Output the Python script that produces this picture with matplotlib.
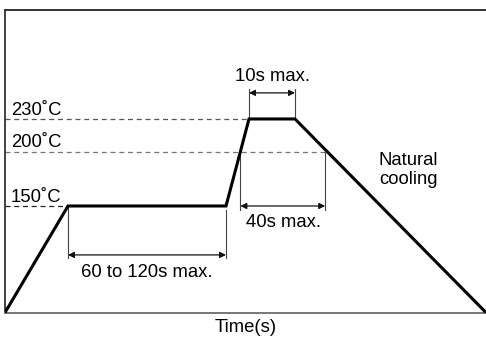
import matplotlib
matplotlib.use("Agg")
import matplotlib.pyplot as plt
import numpy as np

plt.rcParams['font.family'] = ['Liberation Sans', 'DejaVu Sans']

# reflow profile (schematic units)
time = [0, 63, 221, 244, 290, 481]
temp = [52, 150, 150, 230, 230, 52]

levels = [230, 200, 150]
level_labels = ['230˚C', '200˚C', '150˚C']

span_labels = ['60 to 120s max.', '40s max.', '10s max.']

FS = 13.3

fig = plt.figure(figsize=(4.86, 3.40), dpi=100)
ax = fig.add_axes([0.0103, 0.0794, 0.9897, 0.8912])
ax.set_xlim(time[0], time[-1])
ax.set_ylim(51.6, 330.2)

# where the profile crosses 200C on the way up and down
t_up200 = np.interp(200, temp[2:4], time[2:4])
t_dn200 = np.interp(200, temp[5:3:-1], time[5:3:-1])

# dashed guide lines
ax.plot([0, time[3]], [230, 230], ls=(0, (4, 3)), color='#555555', lw=0.9)
ax.plot([0, t_dn200], [200, 200], ls=(0, (4, 3)), color='#777777', lw=0.9)
ax.plot([0, time[1]], [150, 150], ls=(0, (4, 3)), color='#222222', lw=0.9)

ax.plot(time, temp, color='black', lw=2.2, solid_joinstyle='miter', zorder=5)

for lv, lab in zip(levels, level_labels):
    ax.text(6, lv + 3.8, lab, fontsize=FS, ha='left', va='baseline')

dim = dict(color='#444444', lw=0.8)
arr = dict(arrowstyle='<|-|>', color='#111111', lw=0.9, mutation_scale=9,
           shrinkA=0, shrinkB=0)

# 60 to 120s
ax.plot([time[1], time[1]], [150, 102], **dim)
ax.plot([time[2], time[2]], [146, 102], **dim)
ax.annotate('', xy=(time[1], 105), xytext=(time[2], 105), arrowprops=arr)
ax.text((time[1] + time[2]) / 2, 88.7, span_labels[0], fontsize=FS,
        ha='center', va='center')

# 40s
ax.plot([t_up200, t_up200], [196, 146], **dim)
ax.plot([t_dn200 - 2, t_dn200 - 2], [200, 146], **dim)
ax.annotate('', xy=(t_up200, 150), xytext=(t_dn200 - 2, 150), arrowprops=arr)
ax.text((t_up200 + t_dn200) / 2, 134.4, span_labels[1], fontsize=FS,
        ha='center', va='center')

# 10s
ax.plot([time[3], time[3]], [230, 257.6], **dim)
ax.plot([time[4], time[4]], [230, 257.6], **dim)
ax.annotate('', xy=(time[3], 254), xytext=(time[4], 254), arrowprops=arr)
ax.text((time[3] + time[4]) / 2, 269, span_labels[2], fontsize=FS,
        ha='center', va='center')

ax.text(403, 183, 'Natural\ncooling', fontsize=FS, ha='center', va='center',
        linespacing=1.2)

ax.set_xticks([])
ax.set_yticks([])
ax.spines['right'].set_visible(False)
ax.spines['left'].set_color('#222222')
ax.spines['left'].set_linewidth(1.2)
ax.spines['top'].set_color('#333333')
ax.spines['top'].set_linewidth(1.4)
ax.spines['bottom'].set_color('#777777')
ax.spines['bottom'].set_linewidth(1.4)
ax.set_xlabel('Time(s)', fontsize=FS, labelpad=4)

fig.savefig('out.png', dpi=100)
